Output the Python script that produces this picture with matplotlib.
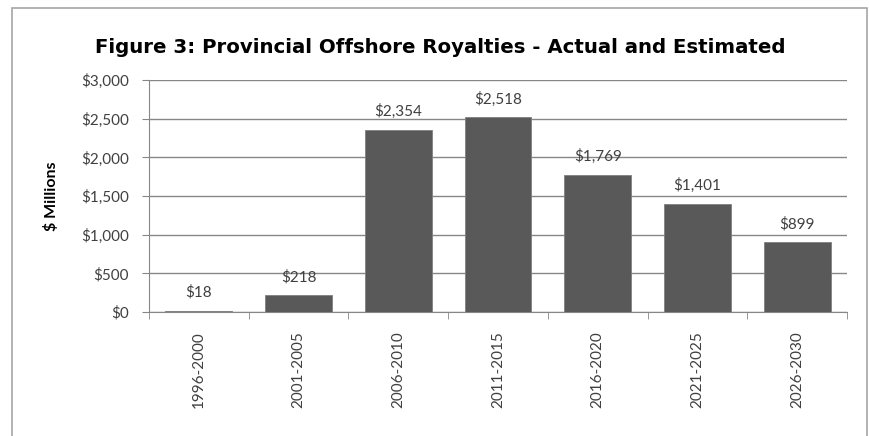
import matplotlib.pyplot as plt
from matplotlib.patches import Rectangle

periods = ['1996-2000', '2001-2005', '2006-2010', '2011-2015',
           '2016-2020', '2021-2025', '2026-2030']
royalties = [18, 218, 2354, 2518, 1769, 1401, 899]
y_ticks = [0, 500, 1000, 1500, 2000, 2500, 3000]

plt.rcParams['font.family'] = ['Lato', 'DejaVu Sans']

fig = plt.figure(figsize=(8.69, 4.36), dpi=100)
ax = fig.add_axes([0.1715, 0.2844, 0.8032, 0.5321])

# outer chart frame (left, top, right only - bottom runs off)
fig.patches.append(Rectangle((12 / 869, -0.1), (867 - 12) / 869, 1.1 - 8 / 436,
                             transform=fig.transFigure, fill=False,
                             edgecolor='#a6a6a6', linewidth=1.2))

x = range(len(periods))
bars = ax.bar(x, royalties, width=0.67, color='#595959',
              edgecolor='#7f7f7f', linewidth=0.6, zorder=3)
for b, v in zip(bars, royalties):
    ax.annotate('${:,}'.format(v), (b.get_x() + b.get_width() / 2, v),
                xytext=(0, 10), textcoords='offset points', ha='center',
                va='baseline', fontsize=11, color='#404040')

ax.set_xlim(-0.5, len(periods) - 0.5)
ax.set_ylim(0, 3000)
ax.set_yticks(y_ticks)
ax.set_yticklabels(['${:,}'.format(t) for t in y_ticks], fontsize=11,
                   color='#404040')
ax.set_xticks(list(x))
ax.set_xticklabels(periods, rotation=90, fontsize=11, color='#404040')
ax.set_xticks([i - 0.5 for i in range(len(periods) + 1)], minor=True)
ax.tick_params(axis='x', which='major', length=0, pad=14)
ax.tick_params(axis='x', which='minor', length=5, color='#878787')
ax.tick_params(axis='y', length=5, color='#878787', pad=9.5)

ax.grid(axis='y', color='#878787', linewidth=1, zorder=0)
for s in ['top', 'right']:
    ax.spines[s].set_visible(False)
for s in ['left', 'bottom']:
    ax.spines[s].set_color('#878787')

ax.set_ylabel('$ Millions', fontsize=11.5, fontweight='bold', labelpad=16)
fig.text(0.507, 1 - 53 / 436, 'Figure 3: Provincial Offshore Royalties - Actual and Estimated',
         ha='center', va='baseline', fontsize=14.2, fontweight='bold',
         family='DejaVu Sans')

fig.savefig('out.png', dpi=100)
